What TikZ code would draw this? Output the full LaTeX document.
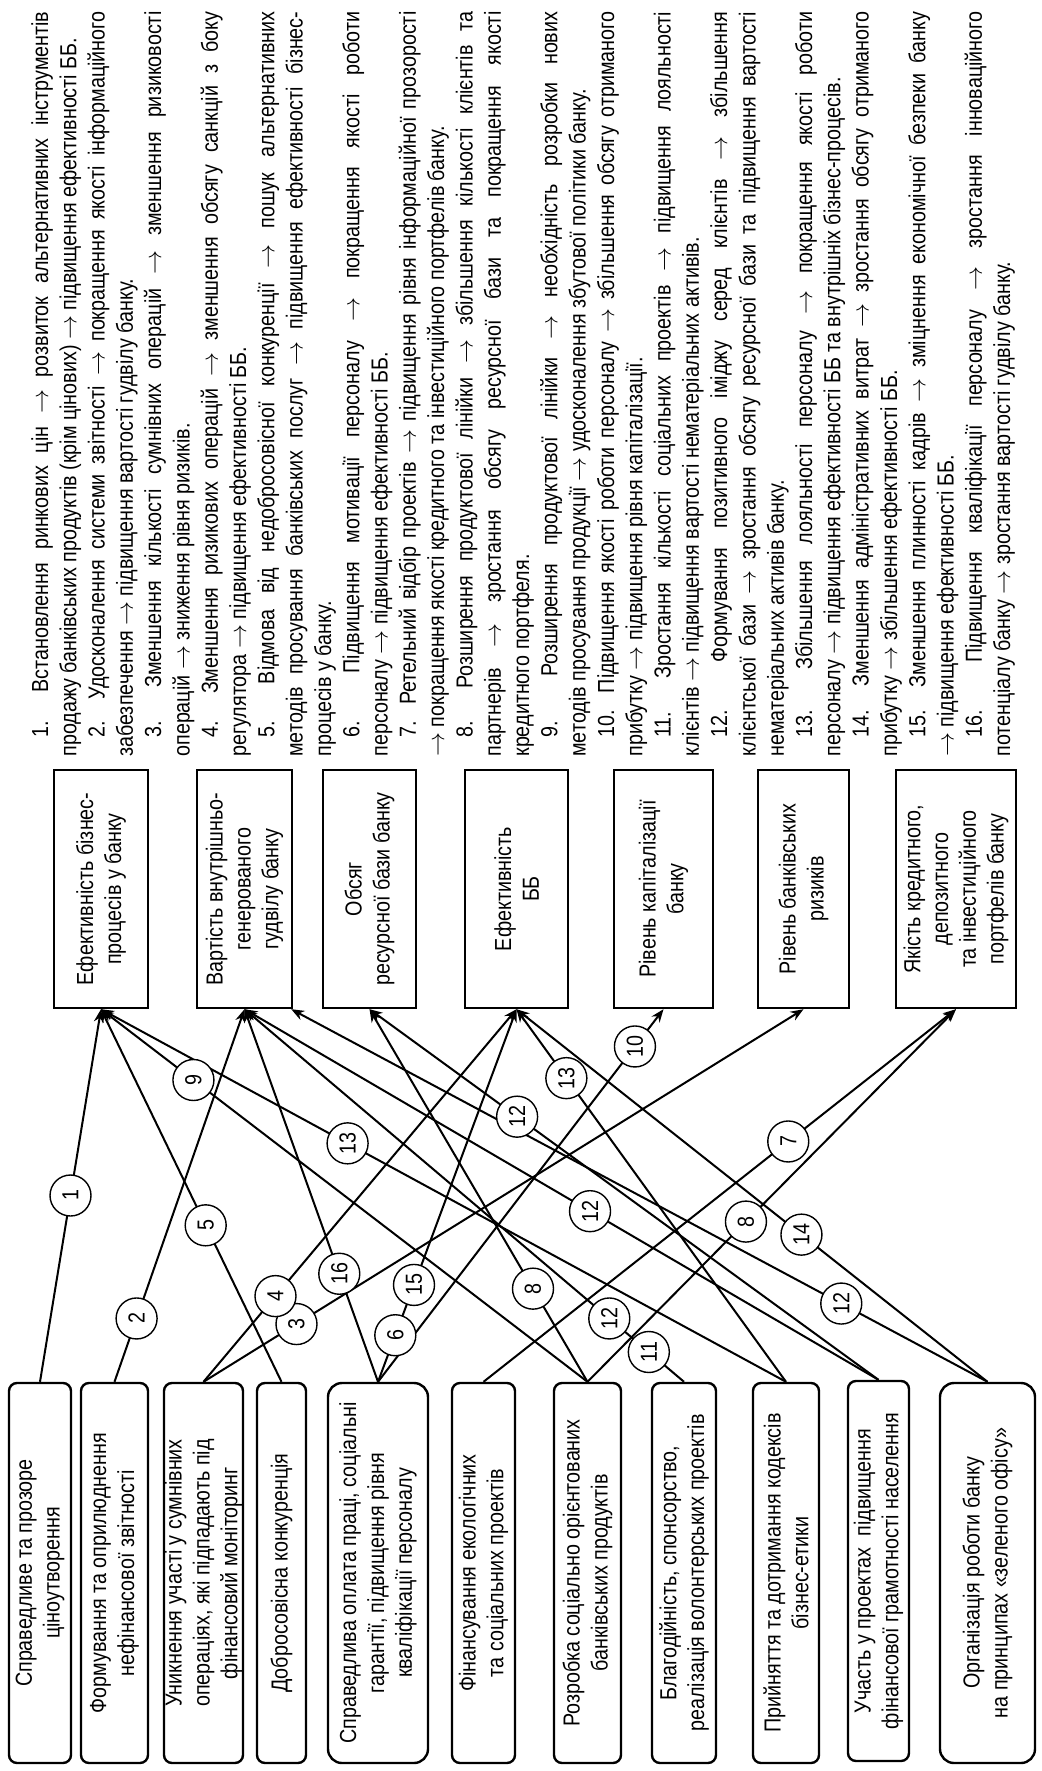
\documentclass[tikz,border=0pt]{standalone}
\usepackage{fontspec}
\setmainfont{Liberation Sans}[FakeStretch=0.85]
\usepackage{graphicx}
\usetikzlibrary{arrows.meta}
\newcommand{\rt}[1]{\rotatebox{90}{\vbox{\let\\\cr\halign{\hfil##\hfil\cr#1\crcr}}}}
\newcommand{\ra}{\(\rightarrow\)}
\begin{document}
\begin{tikzpicture}[x=0.5pt,y=-0.5pt,
  every node/.style={font=\fontsize{11.6}{13.9}\selectfont},
  src/.style={draw, line width=1.2pt, rounded corners=4pt, minimum height=190pt, inner sep=0pt},
  tgt/.style={draw, line width=1.2pt, minimum height=119pt, inner sep=0pt},
  num/.style={circle, draw, line width=0.7pt, fill=white, minimum size=20.5pt, inner sep=0pt, rotate=90},
  arr/.style={line width=1pt, -{Stealth[length=6.5pt,width=5pt]}}]
\fill[white] (0,0) rectangle (1041,1771);
\useasboundingbox (0,0) rectangle (1041,1771);

% source boxes
\node[src, minimum width=31pt] (S1) at (40,1573) {\rt{Справедливе та прозоре\\ціноутворення}};
\node[src, minimum width=33.5pt] (S2) at (114.5,1573) {\rt{Формування та оприлюднення\\нефінансової звітності}};
\node[src, minimum width=39.5pt] (S3) at (203.5,1573) {\rt{Уникнення участі у сумнівних\\операціях, які підпадають під\\фінансовий моніторинг}};
\node[src, minimum width=24.5pt] (S4) at (281.5,1573) {\rt{Добросовісна конкуренція}};
\node[src, minimum width=50pt, rounded corners=7pt] (S5) at (378,1573) {\rt{Справедлива оплата праці, соціальні\\гарантії, підвищення рівня\\кваліфікації персоналу}};
\node[src, minimum width=31.5pt] (S6) at (483.5,1573) {\rt{Фінансування екологічних\\та соціальних проектів}};
\node[src, minimum width=33.5pt] (S7) at (587.5,1573) {\rt{Розробка соціально орієнтованих\\банківських продуктів}};
\node[src, minimum width=32pt] (S8) at (684,1573) {\rt{Благодійність, спонсорство,\\реалізація волонтерських проектів}};
\node[src, minimum width=33pt] (S9) at (786,1573) {\rt{Прийняття та дотримання кодексів\\бізнес-етики}};
\node[src, minimum width=30.5pt] (S10) at (878.5,1571) {\rt{Участь у проектах\ \ підвищення\\фінансової грамотності населення}};
\node[src, minimum width=47.5pt, rounded corners=7pt] (S11) at (987.5,1573) {\rt{Організація роботи банку\\на принципах «зеленого офісу»}};

% target boxes
\node[tgt, minimum width=47pt] (T1) at (101,889) {\rt{Ефективність бізнес-\\процесів у банку}};
\node[tgt, minimum width=47.5pt] (T2) at (244.5,889) {\rt{Вартість внутрішньо-\\генерованого\\гудвілу банку}};
\node[tgt, minimum width=46.5pt] (T3) at (369.5,889) {\rt{Обсяг\\ресурсної бази банку}};
\node[tgt, minimum width=51.5pt] (T4) at (516.5,889) {\rt{Ефективність\\ББ}};
\node[tgt, minimum width=49.5pt] (T5) at (663.5,889) {\rt{Рівень капіталізації\\банку}};
\node[tgt, minimum width=45.5pt] (T6) at (803.5,889) {\rt{Рівень банківських\\ризиків}};
\node[tgt, minimum width=60pt] (T7) at (956,889) {\rt{Якість кредитного,\\депозитного\\та інвестиційного\\портфелів банку}};

% connectors
\draw[arr] (S1.north) -- coordinate[pos=0.5] (c1) (T1.south);
\draw[arr] (S2.north) -- coordinate[pos=0.17] (c2) (T2.south);
\draw[arr] (S3.north) -- coordinate[pos=0.155] (c3) (T6.south);
\draw[arr] (S3.north) -- coordinate[pos=0.23] (c4) (T4.south);
\draw[arr] (S4.north) -- coordinate[pos=0.42] (c5) (T1.south);
\draw[arr] (S5.north) -- coordinate[pos=0.125] (c6) coordinate[pos=0.26] (c15) (T4.south);
\draw[arr] (S5.north) -- coordinate[pos=0.29] (c16) (T2.south);
\draw[arr] (S5.north) -- coordinate[pos=0.9] (c10) (T5.south);
\draw[arr] (S6.north) -- coordinate[pos=0.645] (c7) (T7.south);
\draw[arr] (S7.north) -- coordinate[pos=0.81] (c9) (T1.south);
\draw[arr] (S7.north) -- coordinate[pos=0.25] (c8a) (T3.south);
\draw[arr] (S7.north) -- coordinate[pos=0.43] (c8b) (T7.south);
\draw[arr] (S8.north) -- coordinate[pos=0.08] (c11) coordinate[pos=0.17] (c12c) (T2.south);
\draw[arr] (S9.north) -- coordinate[pos=0.64] (c13a) (T1.south);
\draw[arr] (S9.north) -- coordinate[pos=0.815] (c13b) (T4.south);
\draw[arr] (S10.north) -- coordinate[pos=0.455] (c12b) (T2.south);
\draw[arr] (S10.north) -- coordinate[pos=0.71] (c12a) (T3.south);
\draw[arr] (S11.north) -- coordinate[pos=0.395] (c14) (T4.south);
\draw[arr] (S11.north) -- coordinate[pos=0.21] (c12d) ([xshift=-1pt]T2.south east);

% labels
\node[num] (n1) at (c1) {1};
\node[num] (n2) at (c2) {2};
\node[num] (n3) at (c3) {3};
\node[num] (n4) at (c4) {4};
\node[num] (n5) at (c5) {5};
\node[num] (n6) at (c6) {6};
\node[num] (n15) at (c15) {15};
\node[num] (n16) at (c16) {16};
\node[num] (n10) at (c10) {10};
\node[num] (n7) at (c7) {7};
\node[num] (n9) at (c9) {9};
\node[num] (n8a) at (c8a) {8};
\node[num] (n8b) at (c8b) {8};
\node[num] (n11) at (c11) {11};
\node[num] (n12c) at (c12c) {12};
\node[num] (n13a) at (c13a) {13};
\node[num] (n13b) at (c13b) {13};
\node[num] (n12b) at (c12b) {12};
\node[num] (n12a) at (c12a) {12};
\node[num] (n14) at (c14) {14};
\node[num] (n12d) at (c12d) {12};

% explanatory text
\node[rotate=90, anchor=base west, inner sep=0pt] (P) at (48,757) {\parbox[t]{372.5pt}{%
\fontsize{11.6}{14.15}\selectfont
\setlength{\parindent}{9.5pt}\tolerance=10000 \hyphenpenalty=10000 \exhyphenpenalty=10000
1. Встановлення ринкових цін \ra{} розвиток альтернативних інструментів \linebreak продажу банківських продуктів (крім цінових) \ra{} підвищення ефективності ББ.\par
2. Удосконалення системи звітності \ra{} покращення якості інформаційного \linebreak забезпечення \ra{} підвищення вартості гудвілу банку.\par
3. Зменшення кількості сумнівних операцій \ra{} зменшення ризиковості \linebreak операцій \ra{} зниження рівня ризиків.\par
4. Зменшення ризикових операцій \ra{} зменшення обсягу санкцій з боку \linebreak регулятора \ra{} підвищення ефективності ББ.\par
5. Відмова від недобросовісної конкуренції \ra{} пошук альтернативних \linebreak методів просування банківських послуг \ra{} підвищення ефективності бізнес-\linebreak процесів у банку.\par
6. Підвищення мотивації персоналу \ra{} покращення якості роботи \linebreak персоналу \ra{} підвищення ефективності ББ.\par
7. Ретельний відбір проектів \ra{} підвищення рівня інформаційної прозорості \linebreak \ra{} покращення якості кредитного та інвестиційного портфелів банку.\par
8. Розширення продуктової лінійки \ra{} збільшення кількості клієнтів та \linebreak партнерів \ra{} зростання обсягу ресурсної бази та покращення якості \linebreak кредитного портфеля.\par
9. Розширення продуктової лінійки \ra{} необхідність розробки нових \linebreak методів просування продукції \ra{} удосконалення збутової політики банку.\par
10. Підвищення якості роботи персоналу \ra{} збільшення обсягу отриманого \linebreak прибутку \ra{} підвищення рівня капіталізації.\par
11. Зростання кількості соціальних проектів \ra{} підвищення лояльності \linebreak клієнтів \ra{} підвищення вартості нематеріальних активів.\par
12. Формування позитивного іміджу серед клієнтів \ra{} збільшення \linebreak клієнтської бази \ra{} зростання обсягу ресурсної бази та підвищення вартості \linebreak нематеріальних активів банку.\par
13. Збільшення лояльності персоналу \ra{} покращення якості роботи \linebreak персоналу \ra{} підвищення ефективності ББ та внутрішніх бізнес-процесів.\par
14. Зменшення адміністративних витрат \ra{} зростання обсягу отриманого \linebreak прибутку \ra{} збільшення ефективності ББ.\par
15. Зменшення плинності кадрів \ra{} зміцнення економічної безпеки банку \linebreak \ra{} підвищення ефективності ББ.\par
16. Підвищення кваліфікації персоналу \ra{} зростання інноваційного \linebreak потенціалу банку \ra{} зростання вартості гудвілу банку.}};
\end{tikzpicture}
\end{document}
